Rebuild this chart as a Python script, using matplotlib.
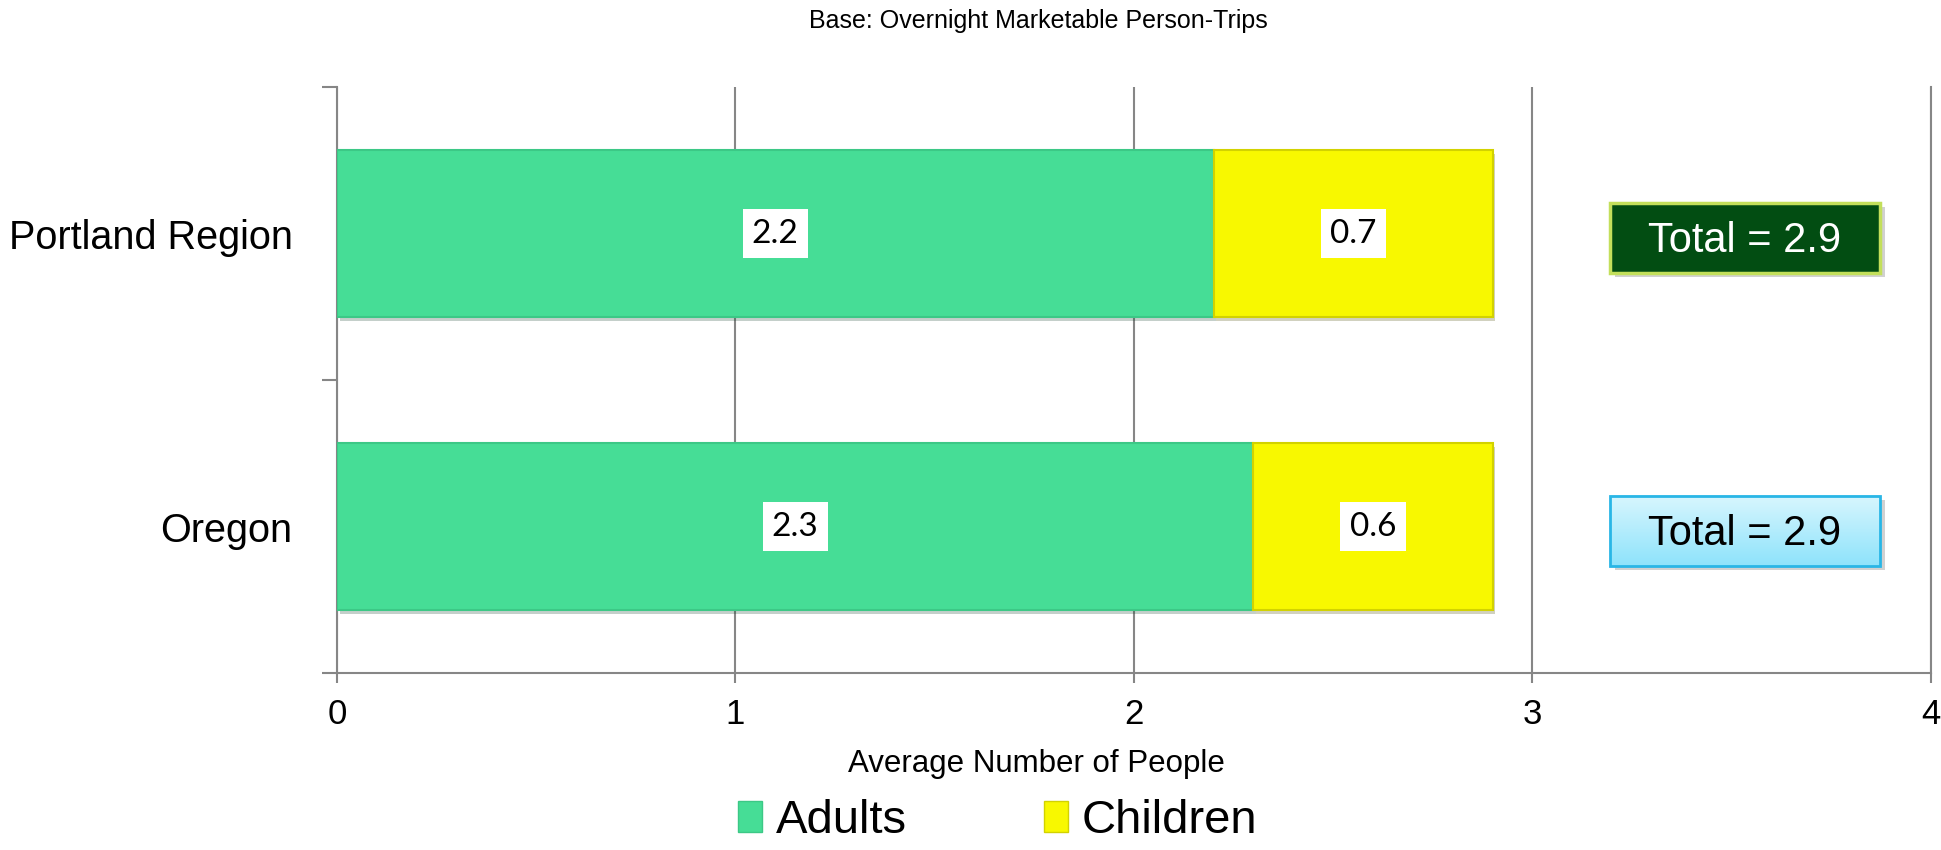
import numpy as np
import matplotlib.pyplot as plt
import matplotlib.patheffects as pe
from matplotlib.patches import Rectangle, Patch
from matplotlib.colors import LinearSegmentedColormap

# average party size, overnight marketable person-trips
regions = ['Oregon', 'Portland Region']
adults = [2.3, 2.2]
children = [0.6, 0.7]
xticks = [0, 1, 2, 3, 4]

green = '#46dd96'
yellow = '#f8f800'
grey = '#868686'

plt.rcParams['font.family'] = ['Liberation Sans', 'DejaVu Sans']

fig = plt.figure(figsize=(19.41, 8.5), dpi=100)
ax = fig.add_axes([0.1736, 0.2082, 0.8212, 0.6894])

ypos = np.arange(len(regions))
shadow = [pe.SimplePatchShadow(offset=(2, -3), alpha=0.25), pe.Normal()]
b1 = ax.barh(ypos, adults, height=0.57, color=green, edgecolor='#3cc886',
             linewidth=1.5, zorder=3, label='Adults')
b2 = ax.barh(ypos, children, left=adults, height=0.57, color=yellow,
             edgecolor='#d2d200', linewidth=1.5, zorder=3, label='Children')
for b in list(b1) + list(b2):
    b.set_path_effects(shadow)

# value labels in white boxes
box = dict(boxstyle='square,pad=0.28', facecolor='white', edgecolor='none')
for bars, vals in [(b1, adults), (b2, children)]:
    ax.bar_label(bars, labels=['%.1f' % v for v in vals], label_type='center',
                 fontsize=24, family=['Lato', 'DejaVu Sans'], bbox=box, zorder=5)

# total callouts on the right
totals = [a + c for a, c in zip(adults, children)]
bx0, bx1, bh = 3.195, 3.872, 0.24
blue_cmap = LinearSegmentedColormap.from_list('lb', ['#8ee3fb', '#d8f6fe'])
for y, tot in zip(ypos, totals):
    yc = y - 0.015
    ax.add_patch(Rectangle((bx0 + 0.012, yc - bh / 2 - 0.014), bx1 - bx0, bh,
                           facecolor='black', alpha=0.18, edgecolor='none', zorder=3))
    if y == 1:
        ax.add_patch(Rectangle((bx0, yc - bh / 2), bx1 - bx0, bh, facecolor='#024d12',
                               edgecolor='#c3df5b', linewidth=2.5, zorder=4))
        tcol = 'white'
    else:
        grad = np.linspace(0, 1, 100).reshape(-1, 1)
        ax.imshow(grad, cmap=blue_cmap, origin='lower', aspect='auto', zorder=4,
                  extent=[bx0, bx1, yc - bh / 2, yc + bh / 2])
        ax.add_patch(Rectangle((bx0, yc - bh / 2), bx1 - bx0, bh, facecolor='none',
                               edgecolor='#29b6e6', linewidth=2, zorder=4))
        tcol = 'black'
    ax.text((bx0 + bx1) / 2, yc - 0.01, 'Total = %.1f' % tot, ha='center', va='center',
            fontsize=30, color=tcol, zorder=5)

ax.set_xlim(0, 4)
ax.set_ylim(-0.5, 1.5)
ax.set_xticks(xticks)
ax.set_yticks(ypos, regions)
ax.set_yticks([-0.5, 0.5, 1.5], minor=True)
ax.tick_params(axis='x', length=7.2, width=1.5, color=grey, labelsize=25, pad=11)
ax.tick_params(axis='y', which='major', length=0, pad=32, labelsize=28.5)
ax.tick_params(axis='y', which='minor', length=11, width=1.5, color=grey)

ax.xaxis.grid(True, color=grey, linewidth=1.5)
ax.set_axisbelow(True)
ax.spines['top'].set_visible(False)
for s in ['left', 'bottom', 'right']:
    ax.spines[s].set_color(grey)
    ax.spines[s].set_linewidth(1.5)

ax.set_xlabel('Average Number of People', fontsize=22.5)
ax.xaxis.set_label_coords(0.439, -0.155)
ax.xaxis.label.set_va('center')

fig.text(0.535, 0.975, 'Base: Overnight Marketable Person-Trips',
         ha='center', va='center', fontsize=18)

fig.legend(handles=[Patch(facecolor=green, edgecolor='#3cc886'),
                    Patch(facecolor=yellow, edgecolor='#d2d200')],
           labels=['Adults', 'Children'], loc='center', bbox_to_anchor=(0.514, 0.034),
           ncol=2, frameon=False, prop=dict(size=34),
           handlelength=0.51, handleheight=0.62, handletextpad=0.29, columnspacing=2.9,
           borderpad=0)

fig.savefig('out.png', dpi=100)
